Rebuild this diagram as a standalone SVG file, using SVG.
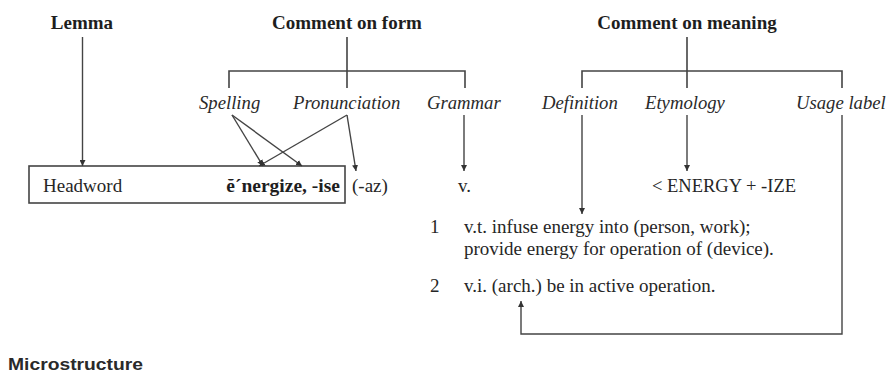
<svg xmlns="http://www.w3.org/2000/svg" width="891" height="373" viewBox="0 0 891 373">
<style>
.h{font-family:"Liberation Serif",serif;font-weight:bold;font-size:19px;fill:#1e1e1e}
.i{font-family:"Liberation Serif",serif;font-style:italic;font-size:18.7px;fill:#2a2a2a}
.t{font-family:"Liberation Serif",serif;font-size:19px;fill:#262626}
.b{font-family:"Liberation Serif",serif;font-weight:bold;font-size:19.5px;fill:#1e1e1e}
.m{font-family:"Liberation Sans",sans-serif;font-weight:bold;font-size:17px;fill:#2a2a2a}
.ln{fill:none;stroke:#444;stroke-width:1.6}
.ar{fill:none;stroke:#444;stroke-width:1.4;marker-end:url(#ah)}
</style>
<defs>
<marker id="ah" viewBox="0 0 10 10" refX="10" refY="5" markerWidth="6" markerHeight="6" markerUnits="userSpaceOnUse" orient="auto">
<path d="M0,0 L10,5 L0,10 z" fill="#333"/>
</marker>
</defs>
<rect width="891" height="373" fill="#fff"/>
<g id="headings">
<text class="h" x="82" y="29" text-anchor="middle">Lemma</text>
<text class="h" x="347" y="29" text-anchor="middle">Comment on form</text>
<text class="h" x="687" y="29" text-anchor="middle">Comment on meaning</text>
</g>
<g id="labels">
<text class="i" x="199" y="109">Spelling</text>
<text class="i" x="293" y="109">Pronunciation</text>
<text class="i" x="427" y="109">Grammar</text>
<text class="i" x="542" y="109">Definition</text>
<text class="i" x="645" y="109">Etymology</text>
<text class="i" x="796" y="109">Usage label</text>
</g>
<g id="headword-box">
<rect x="29" y="166" width="316" height="37" fill="none" stroke="#444" stroke-width="1.6"/>
<text class="t" x="43" y="192">Headword</text>
<text class="b" x="340" y="192" text-anchor="end">ĕ´nergize, -ise</text>
</g>
<g id="entry">
<text class="t" x="352" y="192">(-az)</text>
<text class="t" x="458" y="192">v.</text>
<text class="t" x="652" y="192" style="font-size:18.5px">&lt; ENERGY + -IZE</text>
<text class="t" x="430" y="233">1</text>
<text class="t" x="464" y="233">v.t. infuse energy into (person, work);</text>
<text class="t" x="464" y="255">provide energy for operation of (device).</text>
<text class="t" x="430" y="292">2</text>
<text class="t" x="464" y="292">v.i. (arch.) be in active operation.</text>
</g>
<g id="connectors">
<path class="ar" d="M82.5,37 V166"/>
<path class="ln" d="M229,88 V71 H465 V88 M347,37 V88"/>
<path class="ln" d="M582,88 V71 H842 V88 M687,37 V88"/>
<path class="ar" d="M232,115 L263,166"/>
<path class="ar" d="M232,115 L302,166"/>
<path class="ar" d="M347,115 L259,166"/>
<path class="ar" d="M347,115 L356,171"/>
<path class="ar" d="M464,115 V171"/>
<path class="ar" d="M687,115 V171"/>
<path class="ar" d="M582,115 V214"/>
<path class="ar" d="M842,115 V334 H521 V301"/>
</g>
<text class="m" x="8" y="370" textLength="135" lengthAdjust="spacingAndGlyphs">Microstructure</text>
</svg>
